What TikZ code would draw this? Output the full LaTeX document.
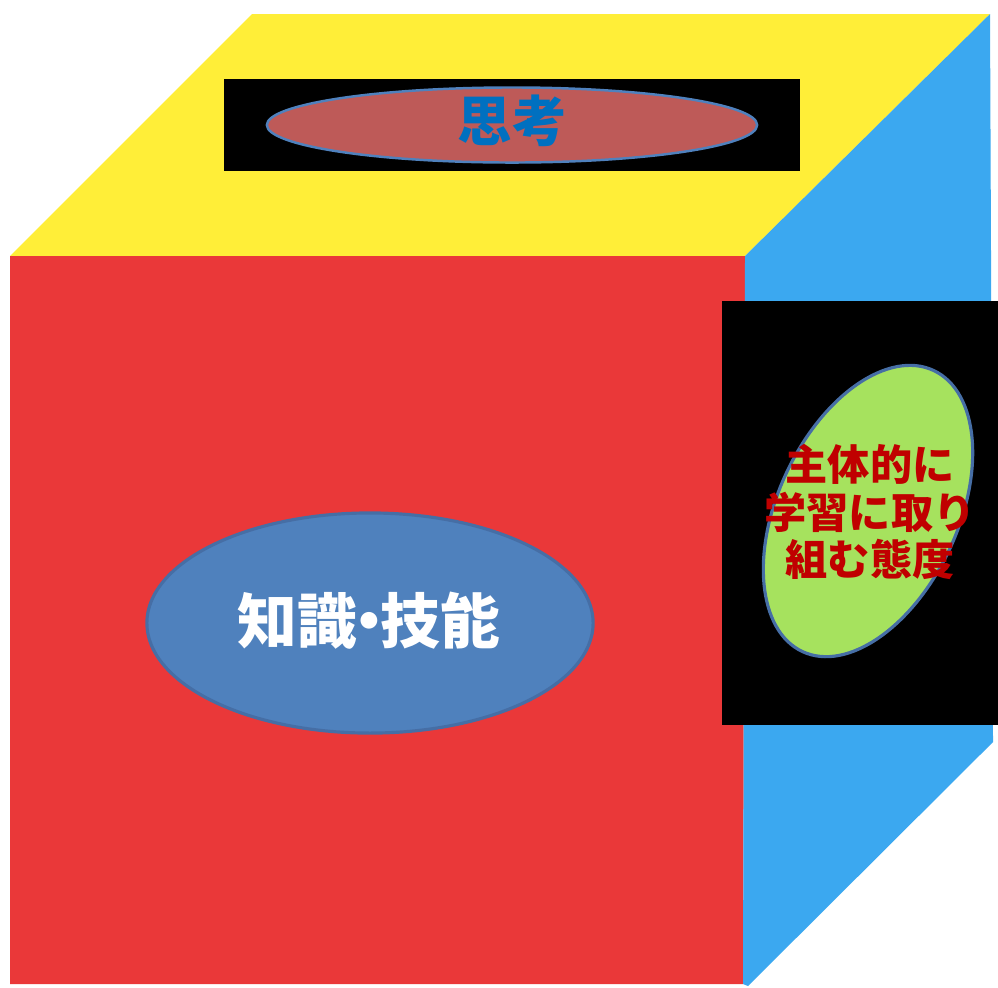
\documentclass[tikz,border=0pt]{standalone}
\usepackage{fontspec}
\usetikzlibrary{shapes.geometric}
\newfontfamily\jp{Noto Sans CJK JP}
\definecolor{topY}{RGB}{255,238,56}
\definecolor{frontR}{RGB}{234,56,57}
\definecolor{sideB}{RGB}{59,168,240}
\definecolor{ovalBrown}{RGB}{190,90,88}
\definecolor{ovalBlue}{RGB}{79,129,189}
\definecolor{ovalGreen}{RGB}{166,226,94}
\definecolor{edgeBlue}{RGB}{70,110,165}
\definecolor{txtBlue}{RGB}{0,112,192}
\definecolor{txtRed}{RGB}{192,0,0}
\tikzset{
  oval/.style={ellipse, draw=edgeBlue, line width=0.85pt, inner sep=0pt},
  lbl/.style={font=\jp\bfseries, align=center}
}
\begin{document}
\begin{tikzpicture}[x=0.01cm,y=-0.01cm]
\useasboundingbox (0,0) rectangle (998,987);
\fill[white] (0,0) rectangle (998,987);
% faces
\fill[topY] (252,14) -- (990,14) -- (745,256) -- (10,256) -- cycle;
\fill[frontR] (10,256) -- (745,256) -- (743,984) -- (10,984) -- cycle;
\fill[sideB] (745,256) -- (990,14) -- (993,742) -- (748,986) -- (743,984) -- cycle;
% black boxes
\fill[black] (224,79) rectangle (800,171);
\fill[black] (722,301) rectangle (998,725);
% top oval
\node[oval, fill=ovalBrown, draw=ovalBlue, line width=0.7pt, minimum width=4.9cm, minimum height=0.75cm] (think) at (512,125) {};
\node[lbl, text=txtBlue, font=\jp\bfseries\fontsize{15.5pt}{16pt}\selectfont] (thinkT) at (512,121) {思考};
% front oval
\node[oval, fill=ovalBlue, draw=edgeBlue, line width=0.9pt, minimum width=4.46cm, minimum height=2.2cm] (know) at (370,623) {};
\node[lbl, text=white, font=\jp\bfseries\fontsize{17pt}{18pt}\selectfont] (knowT) at (369,621) {知識\kern-0.3em・\kern-0.3em技能};
% side oval
\node[oval, fill=ovalGreen, draw=edgeBlue, line width=0.9pt, minimum width=3.1cm, minimum height=1.8cm, rotate=65] (att) at (868,511) {};
\node[lbl, text=txtRed, font=\jp\bfseries\fontsize{12pt}{13.6pt}\selectfont] (attT) at (870,512) {主体的に\\学習に取り\\組む態度};
\end{tikzpicture}
\end{document}
